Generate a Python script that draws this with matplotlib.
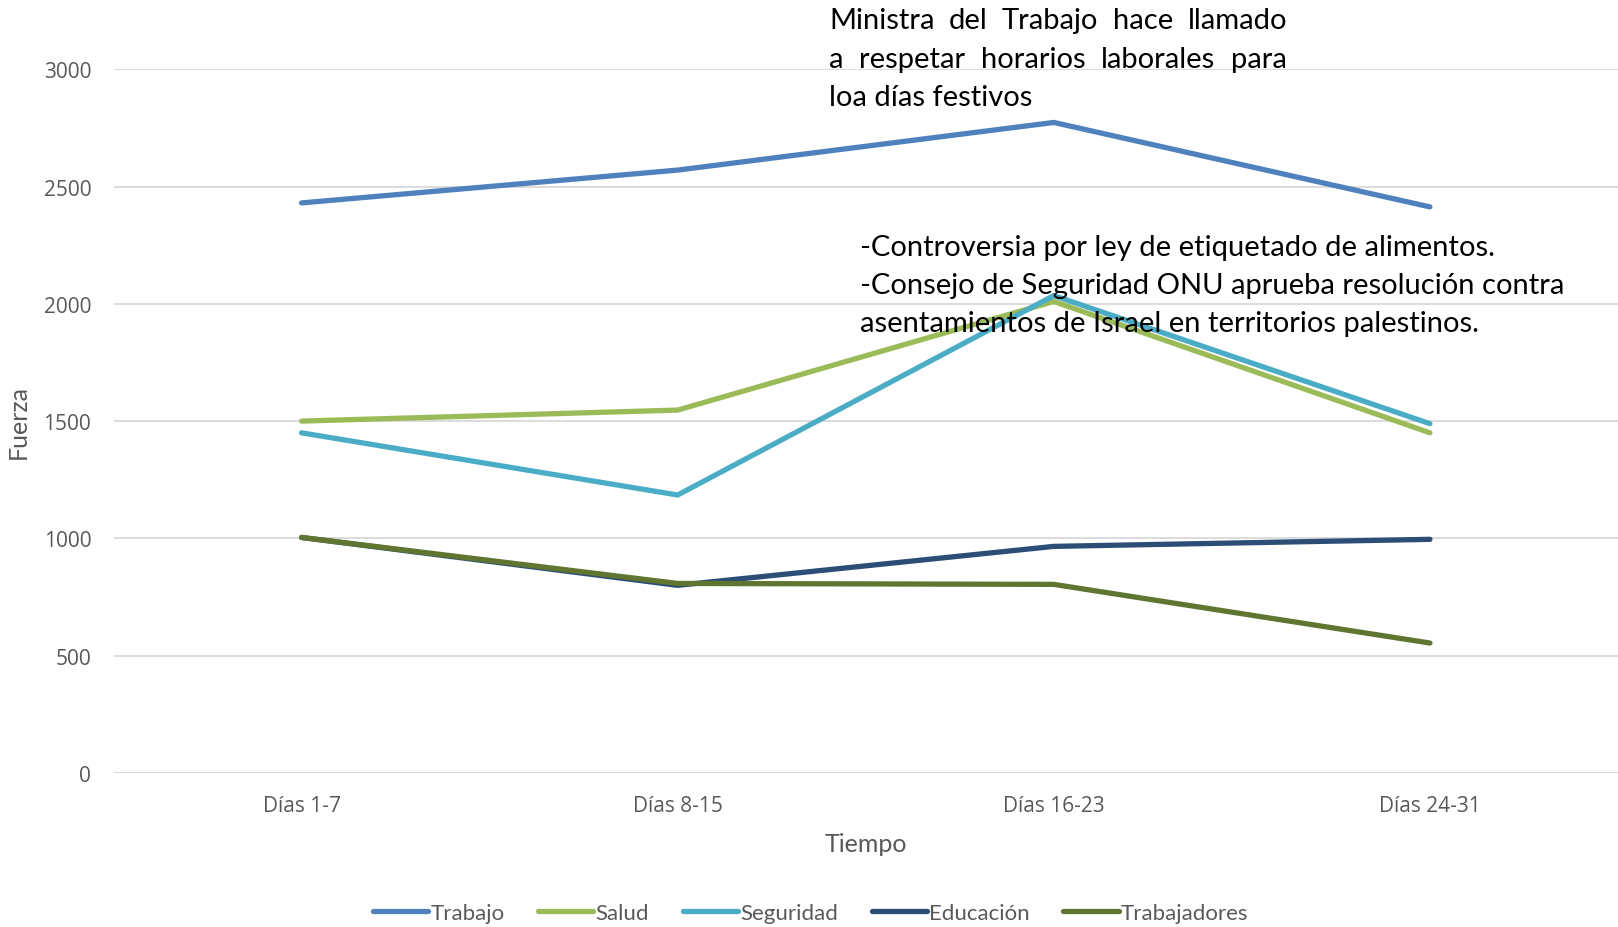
import numpy as np
import matplotlib.pyplot as plt

# datos
categorias = ['Días 1-7', 'Días 8-15', 'Días 16-23', 'Días 24-31']
trabajo = [2430, 2570, 2773, 2413]
salud = [1500, 1547, 2010, 1450]
seguridad = [1450, 1185, 2035, 1489]
educacion = [1004, 800, 966, 996]
trabajadores = [1004, 808, 804, 554]
nombres = ['Trabajo', 'Salud', 'Seguridad', 'Educación', 'Trabajadores']
y_ticks = [0, 500, 1000, 1500, 2000, 2500, 3000]

nota_1 = ['Ministra del Trabajo hace llamado',
          'a respetar horarios laborales para',
          'loa días festivos']
nota_2 = ['-Controversia por ley de etiquetado de alimentos.',
          '-Consejo de Seguridad ONU aprueba resolución contra',
          'asentamientos de Israel en territorios palestinos.']

colores = ['#4F81BD', '#9BBB59', '#4BACC6', '#2C4D75', '#5F7530']
W, H = 1618, 928
FUENTE = 'Lato'


def texto_justificado(fig, lineas, x0, ancho, ys, **kw):
    # justifica todas las lineas menos la ultima, como en Word
    r = fig.canvas.get_renderer()
    for i, (linea, y) in enumerate(zip(lineas, ys)):
        if i == len(lineas) - 1:
            fig.text(x0 / W, 1 - y / H, linea, va='center', ha='left', **kw)
            continue
        palabras = linea.split()
        objs = [fig.text(0, 1 - y / H, p, va='center', ha='left', **kw) for p in palabras]
        anchos = [o.get_window_extent(r).width for o in objs]
        hueco = (ancho - sum(anchos)) / (len(palabras) - 1)
        x = x0
        for o, w in zip(objs, anchos):
            o.set_x(x / W)
            x += w + hueco


def main():
    fig = plt.figure(figsize=(W / 100, H / 100), dpi=100)
    ax = fig.add_axes([113.5 / W, (H - 774) / H, 1 - 113.5 / W, (774 - 70.2) / H])

    x = np.arange(len(categorias))
    datos = [trabajo, salud, seguridad, educacion, trabajadores]
    for nombre, vals, c in zip(nombres, datos, colores):
        ax.plot(x, vals, color=c, linewidth=3.8, solid_capstyle='round',
                solid_joinstyle='miter', label=nombre, clip_on=False)

    ax.set_xlim(-0.5, 3.5)
    ax.set_ylim(0, 3000)
    ax.set_yticks(y_ticks)
    ax.set_xticks(x)
    ax.set_xticklabels(categorias)
    ax.grid(axis='y', color='#D9D9D9', linewidth=1.3)
    ax.set_axisbelow(True)
    for s in ax.spines.values():
        s.set_visible(False)
    ax.tick_params(axis='both', length=0, colors='#595959', labelsize=15)
    ax.tick_params(axis='y', pad=16)
    ax.tick_params(axis='x', pad=16)
    for t in ax.get_xticklabels() + ax.get_yticklabels():
        t.set_fontfamily('Open Sans')

    ax.set_xlabel('Tiempo', fontsize=18, color='#595959', family=FUENTE, va='center')
    ax.xaxis.set_label_coords(0.5, -0.0995)
    ax.set_ylabel('Fuerza', fontsize=18, color='#595959', family=FUENTE, va='center')
    ax.yaxis.set_label_coords(-0.063, 0.5)

    leg = fig.legend(loc='center', bbox_to_anchor=(0.501, 1 - 914 / H), ncol=5,
                     frameon=False, handlelength=2.5, handletextpad=0.1,
                     columnspacing=1.5, prop={'family': FUENTE, 'size': 16})
    for t in leg.get_texts():
        t.set_color('#595959')

    texto_justificado(fig, nota_1, 829, 458, [20.6, 60, 98],
                      fontsize=21, family=FUENTE, color='black')
    for linea, y in zip(nota_2, [248, 286, 324]):
        fig.text(860 / W, 1 - y / H, linea, va='center', ha='left',
                 fontsize=21, family=FUENTE, color='black')

    fig.savefig('out.png', dpi=100)


if __name__ == "__main__":
    main()
